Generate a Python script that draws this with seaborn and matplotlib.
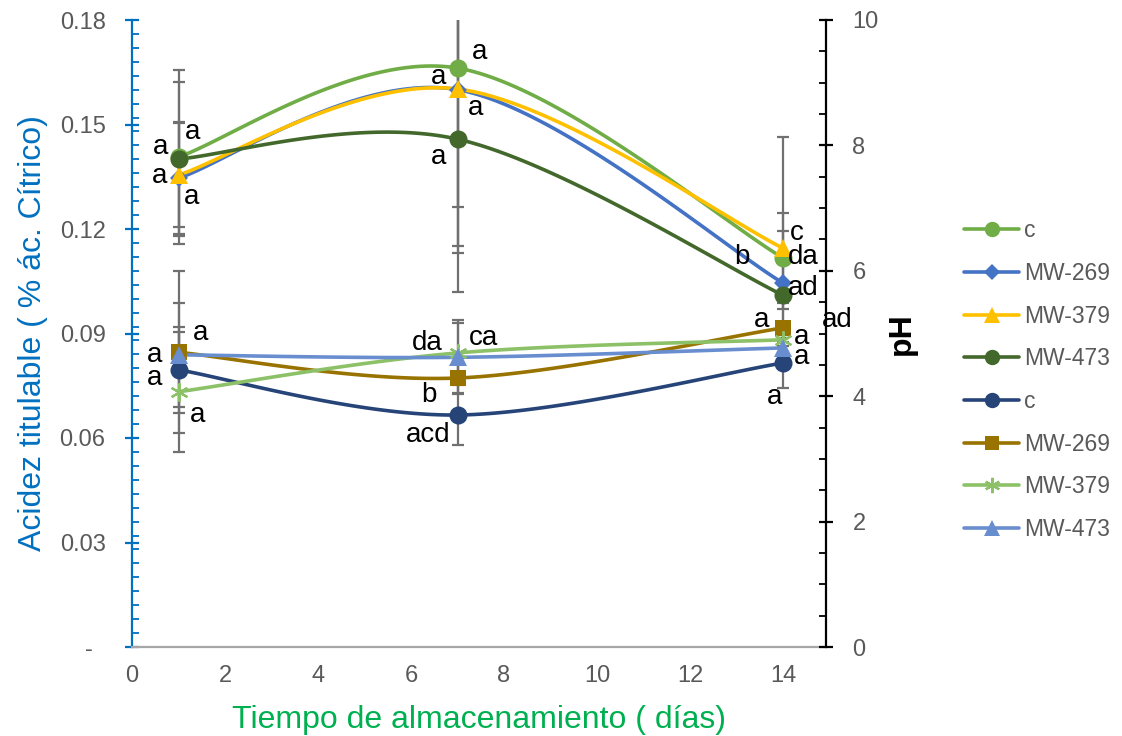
import numpy as np
import matplotlib
matplotlib.use("Agg")
import matplotlib.pyplot as plt
from matplotlib.lines import Line2D
import seaborn as sns

sns.set_theme(style="white")
plt.rcParams['font.family'] = ['Liberation Sans', 'DejaVu Sans']

# ---------------- data ----------------
days = [1, 7, 14]

# Acidez titulable (% ác. cítrico) - left axis
acid_labels = ["c", "MW-269", "MW-379", "MW-473"]
acid_c = [0.1407, 0.1662, 0.1117]
acid_mw269 = [0.1346, 0.1600, 0.1045]
acid_mw379 = [0.1355, 0.1602, 0.1145]
acid_mw473 = [0.1401, 0.1458, 0.1010]
acid_err_c = [0.025, 0.040, 0.013]
acid_err_mw269 = [0.016, 0.045, 0.015]
acid_err_mw379 = [0.015, 0.047, 0.032]
acid_err_mw473 = [0.022, 0.044, 0.004]

# pH - right axis
ph_labels = ["c", "MW-269", "MW-379", "MW-473"]
ph_c = [4.42, 3.70, 4.53]
ph_mw269 = [4.70, 4.29, 5.09]
ph_mw379 = [4.07, 4.69, 4.90]
ph_mw473 = [4.66, 4.62, 4.77]
ph_err_c = [0.69, 0.48, 0.40]
ph_err_mw269 = [1.29, 0.24, 0.10]
ph_err_mw379 = [0.96, 0.48, 0.10]
ph_err_mw473 = [0.83, 0.59, 0.10]

x_ticks = [0, 2, 4, 6, 8, 10, 12, 14]
acid_ticks = [0, 0.03, 0.06, 0.09, 0.12, 0.15, 0.18]
acid_tick_labels = ["-  ", "0.03", "0.06", "0.09", "0.12", "0.15", "0.18"]
ph_ticks = [0, 2, 4, 6, 8, 10]

# significance letters: (axis, series index, day index, text, dx px, dy px)
letters = [
    ("acid", 0, 0, "a", -18, 10), ("acid", 0, 0, "a", 14, 25),
    ("acid", 2, 0, "a", -19, -1), ("acid", 1, 0, "a", 13, -19),
    ("ph", 1, 0, "a", 22, 19), ("ph", 3, 0, "a", -24, 0),
    ("ph", 0, 0, "a", -24, -8), ("ph", 2, 0, "a", 19, -23),
    ("acid", 0, 1, "a", 22, 16), ("acid", 2, 1, "a", -19, 12),
    ("acid", 1, 1, "a", 18, -18), ("acid", 3, 1, "a", -19, -18),
    ("ph", 3, 1, "da", -30, 14), ("ph", 2, 1, "ca", 26, 15),
    ("ph", 1, 1, "b", -29, -17), ("ph", 0, 1, "acd", -29, -20),
    ("acid", 2, 2, "c", 14, 15), ("acid", 1, 2, "b", -41, 26),
    ("acid", 0, 2, "da", 20, 1), ("acid", 1, 2, "ad", 20, -5),
    ("ph", 1, 2, "a", -21, 8), ("ph", 1, 2, "ad", 54, 8),
    ("ph", 2, 2, "a", 19, 3), ("ph", 3, 2, "a", 19, -9),
    ("ph", 0, 2, "a", -8, -34),
]

# ---------------- styles ----------------
acid_colors = ["#70AD47", "#4472C4", "#FFC000", "#43682B"]
acid_markers = [("o", 13), ("D", 9), ("^", 13), ("o", 13)]
ph_colors = ["#264478", "#997300", "#8CC168", "#698ED0"]
ph_markers = [("o", 13), ("s", 12), ((6, 2, 0), 13), ("^", 13)]
err_color = "#707070"
tick_grey = "#595959"

W, H = 1122, 736
fig = plt.figure(figsize=(W / 100, H / 100), dpi=100)
L, R, T, B = 132, 826, 20, 647
ax = fig.add_axes([L / W, 1 - B / H, (R - L) / W, (B - T) / H])
ax2 = ax.twinx()
ax.set_facecolor("none")
ax2.set_facecolor("none")

ax.set_xlim(0, 14 * (R - L) / (783 - 132))
ax.set_ylim(0, 0.18)
ax2.set_ylim(0, 10)


def smooth(axis, xs, ys, n=60):
    pts = axis.transData.transform(np.column_stack([xs, ys]))
    P = np.vstack([pts[0], pts, pts[-1]])
    out = []
    for i in range(len(pts) - 1):
        p0, p1, p2, p3 = P[i], P[i + 1], P[i + 2], P[i + 3]
        c1 = p1 + (p2 - p0) / 6
        c2 = p2 - (p3 - p1) / 6
        t = np.linspace(0, 1, n)[:, None]
        seg = (1 - t) ** 3 * p1 + 3 * (1 - t) ** 2 * t * c1 + 3 * (1 - t) * t ** 2 * c2 + t ** 3 * p2
        out.append(seg if i == 0 else seg[1:])
    return axis.transData.inverted().transform(np.vstack(out))


acid_series = [acid_c, acid_mw269, acid_mw379, acid_mw473]
acid_errs = [acid_err_c, acid_err_mw269, acid_err_mw379, acid_err_mw473]
ph_series = [ph_c, ph_mw269, ph_mw379, ph_mw473]
ph_errs = [ph_err_c, ph_err_mw269, ph_err_mw379, ph_err_mw473]

handles = []
labels = []
for axis, series, errs, colors, markers, names in [
    (ax, acid_series, acid_errs, acid_colors, acid_markers, acid_labels),
    (ax2, ph_series, ph_errs, ph_colors, ph_markers, ph_labels),
]:
    for vals, err in zip(series, errs):
        axis.errorbar(days, vals, yerr=err, fmt="none", ecolor=err_color,
                      elinewidth=1.6, capsize=4.5, capthick=1.6, zorder=1)
    for vals, col in zip(series, colors):
        cur = smooth(axis, days, vals)
        sns.lineplot(x=cur[:, 0], y=cur[:, 1], ax=axis, color=col, lw=2.6,
                     sort=False, estimator=None, zorder=2)
    for vals, col, (mk, ms), nm in zip(series, colors, markers, names):
        mew = 1.6 if mk == (6, 2, 0) else 0
        axis.plot(days, vals, linestyle="none", marker=mk, ms=ms, color=col,
                  mec=col, mew=mew, zorder=3)
        handles.append(Line2D([], [], color=col, lw=2.6, marker=mk,
                              ms=ms * 0.85, mec=col, mew=mew))
        labels.append(nm)

# letters
for axname, si, di, txt, dx, dy in letters:
    axis = ax if axname == "acid" else ax2
    vals = acid_series[si] if axname == "acid" else ph_series[si]
    axis.annotate(txt, xy=(days[di], vals[di]), xytext=(dx * 0.72, dy * 0.72),
                  textcoords="offset points", ha="center", va="center",
                  fontsize=20, color="black", annotation_clip=False, zorder=5)

# axes styling
for a in (ax, ax2):
    for s in a.spines.values():
        s.set_visible(False)
    a.grid(False)

ax.spines["left"].set_visible(True)
ax.spines["left"].set_color("#0070C0")
ax.spines["left"].set_linewidth(1.6)
ax.spines["bottom"].set_visible(True)
ax.spines["bottom"].set_color("#A6A6A6")
ax.spines["bottom"].set_linewidth(1.6)
ax2.spines["right"].set_visible(True)
ax2.spines["right"].set_color("black")
ax2.spines["right"].set_linewidth(1.6)

ax.set_xticks(x_ticks)
ax.set_xticklabels([str(v) for v in x_ticks])
ax.set_yticks(acid_ticks)
ax.set_yticklabels(acid_tick_labels)
ax.set_yticks(np.arange(0, 0.1801, 0.004), minor=True)
ax.tick_params(axis="x", which="major", direction="out", length=5, width=1.6,
               color="#A6A6A6", labelsize=17, labelcolor=tick_grey, pad=8)
ax.tick_params(axis="y", which="major", direction="inout", length=10, width=1.6,
               color="#0070C0", labelsize=17, labelcolor=tick_grey, pad=14,
               left=True)
ax.tick_params(axis="y", which="minor", direction="in", length=5, width=1.3,
               color="#0070C0", left=True)

ax2.set_yticks(ph_ticks)
ax2.set_yticks(np.arange(0, 10.01, 0.5), minor=True)
ax2.tick_params(axis="y", which="major", direction="inout", length=10, width=1.6,
                color="black", labelsize=17, labelcolor=tick_grey, pad=14,
                right=True)
ax2.tick_params(axis="y", which="minor", direction="in", length=5, width=1.3,
                color="black", right=True)

ax.set_xlabel("Tiempo de almacenamiento ( días)", fontsize=23, color="#00B050",
              labelpad=13)
ax.set_ylabel("Acidez titulable ( % ác. Cítrico)", fontsize=23, color="#0070C0",
              labelpad=8)
ax2.set_ylabel("pH", fontsize=23, fontweight="bold", color="black", labelpad=6)

fig.legend(handles, labels, loc="upper left",
           bbox_to_anchor=(955 / W, 1 - 210 / H), frameon=False,
           fontsize=16.5, labelcolor=tick_grey, handlelength=2.4,
           handletextpad=0.2, labelspacing=0.86, borderaxespad=0)

fig.savefig("out.png", dpi=100)
